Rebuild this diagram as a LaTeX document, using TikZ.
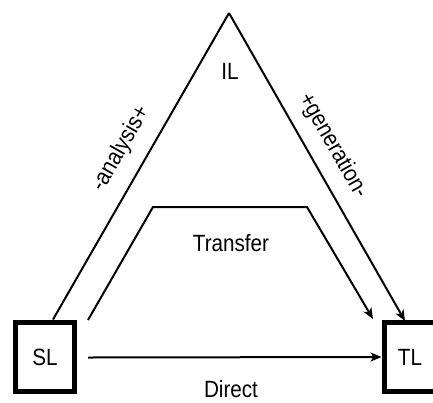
\documentclass[tikz,border=0pt]{standalone}
\usepackage{fontspec}
\setmainfont{Liberation Sans}[FakeStretch=0.88]
\usetikzlibrary{arrows.meta}
\begin{document}
\begin{tikzpicture}[x=1pt,y=-1pt,
  box/.style={draw,line width=5pt,minimum width=59pt,minimum height=69pt,inner sep=0pt},
  lbl/.style={font=\fontsize{23.5}{26}\selectfont,inner sep=0pt},
  conn/.style={line width=2pt},
  arr/.style={conn,-{Stealth[length=11pt,width=9pt,inset=3pt]}}]
\useasboundingbox (0,0) rectangle (433,402);
\node[box,lbl] (SL) at (45,357) {SL};
\node[box,lbl,minimum width=52pt] (TL) at (410,357) {TL};
\coordinate (apex) at (229,13);
\node[lbl] (IL) at (230,71) {IL};
\coordinate (s1) at (53,319.5);
\coordinate (t1) at (405,321);
\draw[conn] (s1) -- (apex);
\draw[arr,line join=miter] (apex) -- (t1);
\coordinate (s2) at (88,320);
\coordinate (p1) at (153,207);
\coordinate (p2) at (307,207);
\coordinate (t2) at (373,319);
\draw[arr] (s2) -- (p1) -- (p2) -- (t2);
\coordinate (s3) at (88,357.5);
\draw[arr] (s3) -- (TL.west);
\node[lbl] (transfer) at (231,243) {Transfer};
\node[lbl] (direct) at (231,389.5) {Direct};
\node[lbl,rotate=60.2] (analysis) at (121,149) {-analysis+};
\node[lbl,rotate=-60.2] (generation) at (333,146) {+generation-};
\end{tikzpicture}
\end{document}
